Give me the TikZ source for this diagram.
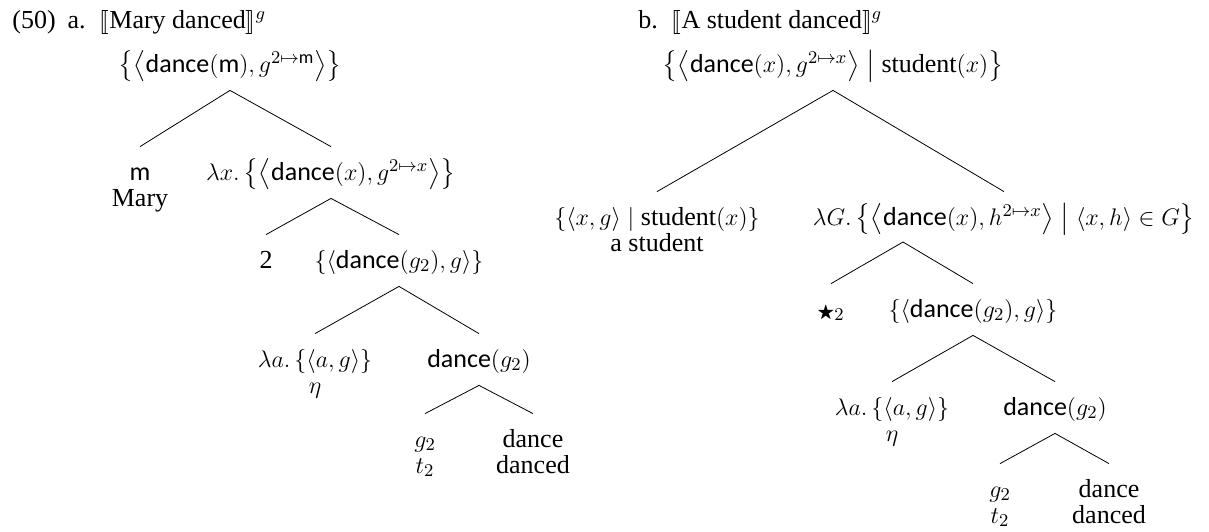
\documentclass[tikz,border=0pt]{standalone}
\usepackage{amsmath,amssymb,stmaryrd}
\usepackage{fontspec}
\setmainfont{Liberation Serif}
\setsansfont{Carlito}
\usepackage{tikz}

\newcommand{\sem}[1]{\llbracket#1\rrbracket}
\newcommand{\dnc}{\textsf{dance}}
\newcommand{\stu}{\textrm{student}}

\tikzset{
  lab/.style={anchor=base, inner sep=0pt, text height=16.5pt, text depth=9pt},
  sub/.style={anchor=base, inner sep=0pt}
}

\begin{document}
\begin{tikzpicture}[x=0.5pt,y=-0.5pt,font=\fontsize{13pt}{15pt}\selectfont]
        \useasboundingbox (0,0) rectangle (1209,531);
        % (50a)
        \node[sub,anchor=base west] (titleA) at (12,28) {(50)\hspace{6pt}a.\hspace{7pt}$\sem{\text{Mary danced}}^g$};
        \node[lab] (rootA) at (230,72) {$\bigl\{\bigl\langle\dnc(\textsf{m}), g^{2\mapsto\textsf{m}}\bigr\rangle\bigr\}$};
        \node[lab] (mA) at (140,180) {\textsf{m}};
        \node[sub] (maryA) at (140,206) {Mary};
        \node[lab] (lamX) at (331,180) {$\lambda x.\,\bigl\{\bigl\langle\dnc(x), g^{2\mapsto x}\bigr\rangle\bigr\}$};
        \node[lab] (twoA) at (266,268) {2};
        \node[lab] (dgA) at (399,268) {$\{\langle\dnc(g_2), g\rangle\}$};
        \node[lab] (lamaA) at (315,367) {$\lambda a.\,\{\langle a, g\rangle\}$};
        \node[sub] (etaA) at (315,393) {$\eta$};
        \node[lab] (dncA) at (479,367) {$\dnc(g_2)$};
        \node[lab] (gA) at (425,447) {$g_2$};
        \node[sub] (tA) at (425,473) {$t_2$};
        \node[lab] (danceA) at (533,447) {dance};
        \node[sub] (dancedA) at (533,473) {danced};
        \draw (mA.north) -- (rootA.south) -- (lamX.north);
        \draw (twoA.north) -- (lamX.south) -- (dgA.north);
        \draw (lamaA.north) -- (dgA.south) -- (dncA.north);
        \draw (gA.north) -- (dncA.south) -- (danceA.north);
        % (50b)
        \node[sub,anchor=base west] (titleB) at (638,28) {b.\hspace{7pt}$\sem{\text{A student danced}}^g$};
        \node[lab] (rootB) at (833,72) {$\bigl\{\bigl\langle\dnc(x), g^{2\mapsto x}\bigr\rangle\bigm|\stu(x)\bigr\}$};
        \node[lab] (stuB) at (657,225) {$\{\langle x, g\rangle \mid \stu(x)\}$};
        \node[sub] (aStu) at (657,251) {a student};
        \node[lab] (lamG) at (1004,225) {$\lambda G.\,\bigl\{\bigl\langle\dnc(x), h^{2\mapsto x}\bigr\rangle\bigm|\langle x, h\rangle\in G\bigr\}$};
        \coordinate (lamGfoot) at (903,242);
        \node[lab] (starB) at (831,317) {{\fontsize{9pt}{9pt}\selectfont$\bigstar$}$_2$};
        \node[lab] (dgB) at (973,317) {$\{\langle\dnc(g_2), g\rangle\}$};
        \node[lab] (lamaB) at (892,415) {$\lambda a.\,\{\langle a, g\rangle\}$};
        \node[sub] (etaB) at (892,441) {$\eta$};
        \node[lab] (dncB) at (1055,415) {$\dnc(g_2)$};
        \node[lab] (gB) at (1000,497) {$g_2$};
        \node[sub] (tB) at (1000,523) {$t_2$};
        \node[lab] (danceB) at (1109,497) {dance};
        \node[sub] (dancedB) at (1109,523) {danced};
        \draw (stuB.north) -- (rootB.south) -- (lamG.north);
        \draw (starB.north) -- (lamGfoot) -- (dgB.north);
        \draw (lamaB.north) -- (dgB.south) -- (dncB.north);
        \draw (gB.north) -- (dncB.south) -- (danceB.north);
    \end{tikzpicture}
\end{document}
